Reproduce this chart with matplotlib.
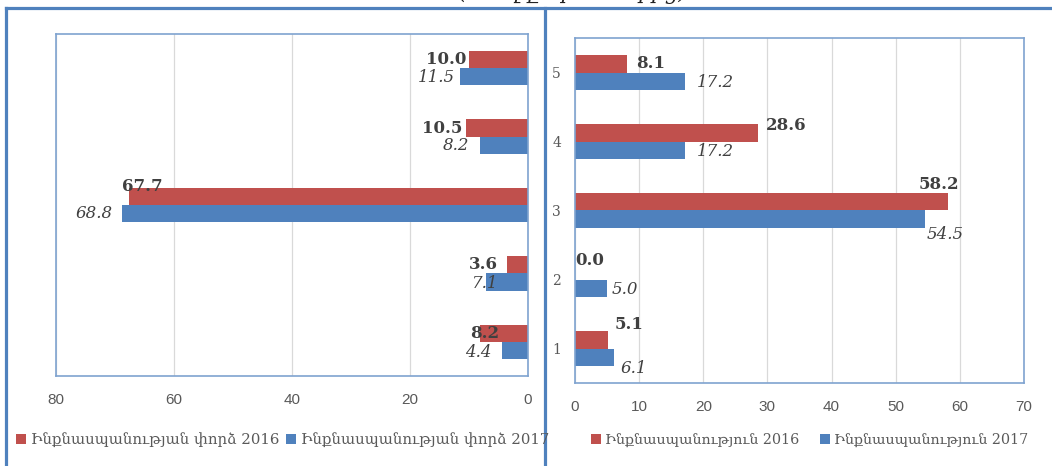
import matplotlib
matplotlib.use("Agg")
import matplotlib.pyplot as plt
from matplotlib.lines import Line2D
from matplotlib.patches import Patch

# ---------------- data ----------------
categories = ["1", "2", "3", "4", "5"]
attempt_2016 = [8.2, 3.6, 67.7, 10.5, 10.0]
attempt_2017 = [4.4, 7.1, 68.8, 8.2, 11.5]
suicide_2016 = [5.1, 0.0, 58.2, 28.6, 8.1]
suicide_2017 = [6.1, 5.0, 54.5, 17.2, 17.2]
left_labels = ["Ինքնասպանության փորձ 2016", "Ինքնասպանության փորձ 2017"]
right_labels = ["Ինքնասպանություն 2016", "Ինքնասպանություն 2017"]
left_ticks = [0, 20, 40, 60, 80]
right_ticks = [0, 10, 20, 30, 40, 50, 60, 70]
top_note = "(%-ով ընդհանուրից)"

RED = "#C0504D"
BLUE = "#4F81BD"
FRAME = "#4F81BD"
GRID = "#D9D9D9"
TICKC = "#595959"
LBLC = "#404040"

W, H = 1052, 466
DPI = 100
fig = plt.figure(figsize=(W / DPI, H / DPI), dpi=DPI)

def px(v):
    return v * 72.0 / DPI

serif = ["DejaVu Serif", "DejaVu Sans"]
sans = ["Liberation Sans", "DejaVu Sans"]

# outer frame lines
fig.add_artist(Line2D([6 / W, 1.0], [1 - 7.5 / H, 1 - 7.5 / H], transform=fig.transFigure, color=FRAME, lw=2.3))
fig.add_artist(Line2D([6 / W, 6 / W], [0, 1 - 7.5 / H], transform=fig.transFigure, color=FRAME, lw=2.3))
fig.add_artist(Line2D([545 / W, 545 / W], [0, 1 - 7.5 / H], transform=fig.transFigure, color=FRAME, lw=2.3))

# heading, mostly cut off by the top edge as in the reference
fig.text(573 / W, 1 + 1 / H, top_note, ha="center", va="baseline", fontsize=15,
         style="italic", family=serif, color="#222222")

ypos = list(range(len(categories)))
bh = 0.25

def style_axes(ax):
    for s in ax.spines.values():
        s.set_color("#7FA3D0")
        s.set_linewidth(1.2)
    ax.grid(axis="x", color=GRID, lw=0.9)
    ax.set_axisbelow(True)
    ax.tick_params(axis="x", length=0, colors=TICKC, labelsize=11, pad=12)
    for t in ax.get_xticklabels():
        t.set_family(sans)

LFS = 12

# ---------------- left chart ----------------
axL = fig.add_axes([56 / W, 1 - 376 / H, (528 - 56) / W, (376 - 34) / H])
axL.barh([y + bh / 2 for y in ypos], attempt_2016, height=bh, color=RED)
axL.barh([y - bh / 2 for y in ypos], attempt_2017, height=bh, color=BLUE)
axL.set_xlim(80, 0)
axL.set_ylim(-0.5, 4.5)
axL.set_xticks(left_ticks)
axL.set_yticks([])
style_axes(axL)

# label offsets (px): dx positive = to the right of the bar end, dy positive = up
L_red_dx = [20, -9, 34, -4, -3]
L_red_dy = [0, 0, 10, 0, 0]
L_blue_dx = [-10, 12, -9, -10, -5]
L_blue_dy = [-2, -2, 0, 0, -1]
for i, y in enumerate(ypos):
    axL.annotate(f"{attempt_2016[i]:.1f}", (attempt_2016[i], y + bh / 2),
                 xytext=(px(L_red_dx[i]), px(L_red_dy[i])), textcoords="offset points",
                 ha="right", va="center", fontsize=LFS, fontweight="bold",
                 family=serif, color=LBLC)
    axL.annotate(f"{attempt_2017[i]:.1f}", (attempt_2017[i], y - bh / 2),
                 xytext=(px(L_blue_dx[i]), px(L_blue_dy[i])), textcoords="offset points",
                 ha="right", va="center", fontsize=LFS, style="italic",
                 family=serif, color=LBLC)

# ---------------- right chart ----------------
axR = fig.add_axes([575 / W, 1 - 383 / H, (1024 - 575) / W, (383 - 38) / H])
axR.barh([y + bh / 2 for y in ypos], suicide_2016, height=bh, color=RED)
axR.barh([y - bh / 2 for y in ypos], suicide_2017, height=bh, color=BLUE)
axR.set_xlim(0, 70)
axR.set_ylim(-0.5, 4.5)
axR.set_xticks(right_ticks)
axR.set_yticks(ypos)
axR.set_yticklabels(categories)
style_axes(axR)
axR.tick_params(axis="y", length=0, colors=TICKC, labelsize=10, pad=10)
for t in axR.get_yticklabels():
    t.set_family(serif)

R_red_dx = [7, 0, -30, 7, 9]
R_red_dy = [15, 10, 17, 7, 0]
R_blue_dx = [6, 5, 2, 12, 12]
R_blue_dy = [-11, -1, -15, -1, -1]
for i, y in enumerate(ypos):
    axR.annotate(f"{suicide_2016[i]:.1f}", (suicide_2016[i], y + bh / 2),
                 xytext=(px(R_red_dx[i]), px(R_red_dy[i])), textcoords="offset points",
                 ha="left", va="center", fontsize=LFS, fontweight="bold",
                 family=serif, color=LBLC)
    axR.annotate(f"{suicide_2017[i]:.1f}", (suicide_2017[i], y - bh / 2),
                 xytext=(px(R_blue_dx[i]), px(R_blue_dy[i])), textcoords="offset points",
                 ha="left", va="center", fontsize=LFS, style="italic",
                 family=serif, color=LBLC)

# ---------------- legends ----------------
def make_legend(labels, x, y, spacing, size):
    handles = [Patch(facecolor=RED), Patch(facecolor=BLUE)]
    leg = fig.legend(handles, labels, loc="center left", bbox_to_anchor=(x, y),
                     ncol=2, frameon=False, handlelength=0.7, handleheight=0.7,
                     handletextpad=0.3, columnspacing=spacing,
                     prop={"family": serif, "size": size}, borderaxespad=0, borderpad=0)
    for t in leg.get_texts():
        t.set_color(TICKC)
    return leg

make_legend(left_labels, 16 / W, 1 - 440 / H, 0.45, 10.7)
make_legend(right_labels, 591 / W, 1 - 440 / H, 1.4, 10.3)

fig.savefig("out.png", dpi=DPI)
